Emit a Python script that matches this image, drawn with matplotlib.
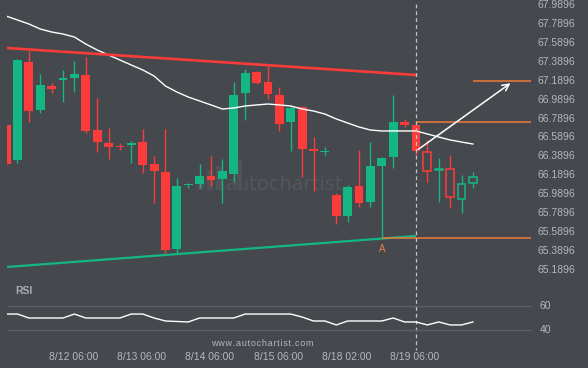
import matplotlib
matplotlib.use('Agg')
import matplotlib.pyplot as plt
from matplotlib.transforms import blended_transform_factory as blend
from matplotlib.patches import Rectangle

BG = '#45484c'
GREEN = '#14b783'
RED = '#fc3b3b'
ORANGE = '#f07a38'
TXT = '#b4b8bc'

# ── data (4h candles) ─────────────────────────────────────────────────────
opens = [66.721, 66.351, 67.387, 66.880, 67.133, 67.197, 67.218, 67.250, 66.668, 66.531,
         66.499, 66.510, 66.541, 66.309, 66.224, 65.410, 66.087, 66.097, 66.182, 66.150,
         66.203, 67.059, 67.281, 67.176, 67.038, 66.753, 66.911, 66.468, 66.436, 65.981,
         65.759, 66.076, 65.907, 66.288, 66.383, 66.753, 66.721, 66.436, 66.245, 66.256,
         65.939, 66.108]
highs = [66.732, 67.419, 67.503, 67.260, 67.165, 67.303, 67.398, 67.440, 67.007, 66.689,
         66.531, 66.552, 66.679, 66.393, 66.679, 66.161, 66.108, 66.309, 66.393, 66.362,
         67.176, 67.313, 67.292, 67.345, 67.123, 66.933, 66.922, 66.594, 66.489, 66.002,
         66.087, 66.457, 66.541, 66.383, 67.038, 66.785, 66.732, 66.563, 66.372, 66.404,
         66.193, 66.224]
lows = [66.288, 66.319, 66.753, 66.848, 67.059, 66.964, 67.070, 66.637, 66.436, 66.362,
        66.457, 66.319, 66.214, 65.897, 65.368, 65.368, 66.055, 66.055, 66.076, 65.897,
        66.119, 66.774, 67.155, 66.996, 66.658, 66.446, 66.171, 66.023, 66.404, 65.675,
        65.696, 65.854, 65.854, 65.527, 66.267, 66.700, 66.404, 66.119, 65.907, 65.844,
        65.791, 66.055]
closes = [66.309, 67.408, 66.869, 67.144, 67.102, 67.218, 67.260, 66.658, 66.541, 66.489,
          66.489, 66.531, 66.298, 66.235, 65.399, 66.076, 66.097, 66.182, 66.140, 66.235,
          67.038, 67.271, 67.165, 67.049, 66.732, 66.901, 66.468, 66.446, 66.446, 65.759,
          66.066, 65.897, 66.288, 66.372, 66.753, 66.721, 66.446, 66.235, 66.256, 65.960,
          66.097, 66.171]
ma = [67.873, 67.831, 67.789, 67.736, 67.704, 67.683, 67.651, 67.577, 67.514, 67.461,
      67.408, 67.355, 67.303, 67.239, 67.133, 67.070, 67.017, 66.975, 66.933, 66.890,
      66.901, 66.922, 66.933, 66.943, 66.933, 66.922, 66.890, 66.869, 66.837, 66.785,
      66.742, 66.700, 66.668, 66.658, 66.658, 66.658, 66.658, 66.626, 66.594, 66.563,
      66.541, 66.520]
rsi = [53.3, 53.3, 50.0, 50.0, 50.0, 50.0, 53.3, 50.0, 50.0, 50.0,
       50.0, 53.3, 53.3, 50.0, 47.5, 47.1, 46.7, 50.0, 50.0, 50.0,
       50.0, 53.3, 53.3, 53.3, 53.3, 53.3, 50.8, 47.5, 47.5, 44.2,
       47.5, 47.5, 47.5, 47.5, 50.0, 46.7, 46.7, 44.2, 46.7, 44.2,
       44.2, 46.7]
n_solid = 37                      # candles after this are drawn hollow

res_x, res_y = [0.08, 36], [67.535, 67.250]
sup_x, sup_y = [0.08, 36], [65.220, 65.548]
pt_a = (33, 65.523)
lvl_low, lvl_mid, lvl_tgt = 65.523, 66.749, 67.186
arrow_from, arrow_to = (36, 66.446), (44.5, 67.18)
event_idx = 36

price_ticks = [65.1896 + 0.2 * k for k in range(15)]
rsi_ticks = [60, 40]
xtick_pos = [5.9, 11.9, 17.9, 23.9, 29.9, 35.9]
xtick_lbl = ['8/12 06:00', '8/13 06:00', '8/14 06:00', '8/15 06:00', '8/18 02:00', '8/19 06:00']

# ── figure ────────────────────────────────────────────────────────────────
W, H = 588, 368
fig = plt.figure(figsize=(W / 100, H / 100), dpi=100, facecolor=BG)
ax = fig.add_axes([7 / W, (H - 280) / H, 525 / W, 280 / H])
ar = fig.add_axes([7 / W, 18 / H, 525 / W, 68 / H])
for a in (ax, ar):
    a.set_facecolor(BG)
    a.axis('off')
    a.set_xlim(0.08, 46.19)
ax.set_ylim(65.0825, 68.0425)
ar.set_ylim(23.33, 80)

plt.rcParams['font.family'] = ['Liberation Sans', 'DejaVu Sans']

# watermark
ax.text(24.5, 66.097, 'autochartist', color='#53565a', fontsize=14,
        family='DejaVu Sans', ha='center', va='center', zorder=0)
for bx, top in [(17.1, 66.17), (17.9, 66.25), (18.7, 66.29), (20.5, 66.36)]:
    ax.add_patch(Rectangle((bx - 0.25, 66.03), 0.5, top - 66.03,
                           color='#4f5256', lw=0, zorder=0))

# candles
for i, (o, h, l, c) in enumerate(zip(opens, highs, lows, closes)):
    col = GREEN if c >= o else RED
    lo, hi = min(o, c), max(o, c)
    hgt = max(hi - lo, 0.012)
    ax.vlines(i, l, h, color=col, lw=1, zorder=2)
    if i < n_solid:
        ax.bar(i, hgt, bottom=lo, width=0.78, color=col, lw=0, zorder=3)
    else:
        ax.bar(i, hgt, bottom=lo, width=0.68, facecolor=BG, edgecolor=col,
               lw=1.1, zorder=3)

# moving average
ax.plot(range(len(ma)), ma, color='white', lw=1, zorder=4)

# pattern lines
ax.plot(res_x, res_y, color=RED, lw=1.9, zorder=5, solid_capstyle='butt')
ax.plot(sup_x, sup_y, color=GREEN, lw=1.6, zorder=5, solid_capstyle='butt')
ax.hlines(lvl_low, pt_a[0], 46.1, color=ORANGE, lw=1.1, zorder=5)
ax.hlines(lvl_mid, event_idx, 46.1, color=ORANGE, lw=1.1, zorder=5)
ax.hlines(lvl_tgt, 41, 46.1, color=ORANGE, lw=1.1, zorder=5)
ax.text(pt_a[0], pt_a[1] - 0.06, 'A', color='#e8834a', fontsize=7,
        ha='center', va='top', zorder=6)
ax.annotate('', xy=arrow_to, xytext=arrow_from,
            arrowprops=dict(arrowstyle='->', color='white', lw=1.1,
                            mutation_scale=12), zorder=6)

# event line across both panels
tr = blend(ax.transData, fig.transFigure)
ax.plot([event_idx, event_idx], [(H - 4) / H, (H - 350) / H], transform=tr,
        color='#c4c6c8', lw=0.9, ls=(0, (3, 2.5)), clip_on=False, zorder=7)

# price labels
tp = blend(fig.transFigure, ax.transData)
for p in price_ticks:
    ax.text(538 / W, p, f'{p:.4f}', transform=tp, color=TXT, fontsize=7.5,
            ha='left', va='center')

# RSI panel
ar.hlines(rsi_ticks, 0.08, 46.19, color='#5c5f63', lw=1)
ar.plot(range(len(rsi)), rsi, color='white', lw=1)
tr2 = blend(fig.transFigure, ar.transData)
for v in rsi_ticks:
    ar.text(540 / W, v, str(v), transform=tr2, color=TXT, fontsize=7.5,
            ha='left', va='center')
fig.text(15 / W, (H - 291) / H, 'RSI', color='#a9adb1', fontsize=7.5,
         fontweight='bold', ha='left', va='center')

# time labels
tx = blend(ar.transData, fig.transFigure)
for pos, lbl in zip(xtick_pos, xtick_lbl):
    ar.text(pos, (H - 357) / H, lbl, transform=tx, color=TXT, fontsize=7.5,
            ha='center', va='center')
fig.text(262 / W, (H - 344) / H, '\u200a'.join('www.autochartist.com'),
         color=TXT, fontsize=6.5, ha='center', va='center',
         family=['Liberation Sans', 'DejaVu Sans'])

fig.savefig('out.png', dpi=100, facecolor=BG)
